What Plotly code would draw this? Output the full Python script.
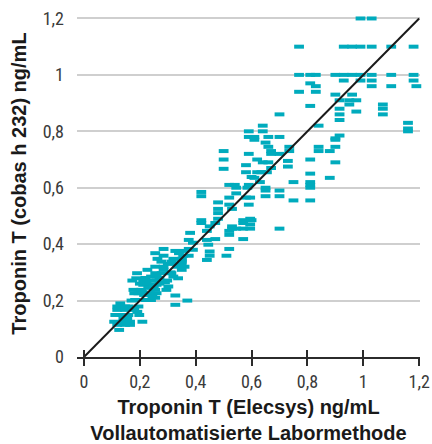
import plotly.graph_objects as go

# --- data ---
elecsys = [
    0.99, 1.03,
    0.77, 0.93, 0.96, 0.99, 1.03, 1.10, 1.18,
    0.77, 0.81, 0.83, 0.90, 0.93, 0.96, 0.99, 1.03, 1.10, 1.18,
    0.93, 0.99, 1.03, 1.18,
    0.81, 0.83, 1.03, 1.10, 1.19,
    0.77, 0.83, 0.90, 0.96,
    0.915, 0.95, 0.975, 0.95, 1.07, 0.81, 0.915, 1.07, 0.975,
    0.70, 0.915, 1.07, 0.915, 1.16, 0.84, 0.64, 1.16, 1.16, 0.64, 0.59,
    0.915, 0.90, 0.59, 0.61, 0.66, 0.70, 0.61, 0.90, 0.65,
    0.66, 0.735, 0.84, 0.90, 0.735, 0.84, 0.88, 0.67, 0.67, 0.59, 0.70, 0.50,
    0.62, 0.73, 0.81, 0.64, 0.66, 0.90, 0.73, 0.67, 0.58, 0.58, 0.50, 0.50,
    0.62, 0.635, 0.655, 0.81, 0.61, 0.88, 0.60,
    0.63, 0.75, 0.81, 0.81, 0.52, 0.54, 0.59,
    0.585, 0.65, 0.81, 0.545, 0.65, 0.65, 0.70, 0.70,
    0.545, 0.42, 0.42, 0.52, 0.58, 0.595, 0.75, 0.81, 0.48,
    0.52, 0.59, 0.53, 0.48, 0.48, 0.48, 0.595,
    0.42, 0.57, 0.60, 0.42, 0.57, 0.47, 0.595, 0.45, 0.53,
    0.53, 0.545, 0.57, 0.595, 0.70, 0.44, 0.52, 0.38, 0.52,
    0.47, 0.57, 0.375, 0.44, 0.39, 0.445, 0.375, 0.52, 0.39,
    0.34, 0.45, 0.45, 0.355, 0.375, 0.51, 0.44, 0.35, 0.33, 0.35, 0.36,
    0.285, 0.327, 0.36, 0.255, 0.34, 0.285, 0.263, 0.32, 0.35,
    0.277, 0.313, 0.35, 0.255, 0.285, 0.334, 0.227, 0.285, 0.35,
    0.19, 0.255, 0.278, 0.313, 0.32, 0.187, 0.337,
    0.173, 0.212, 0.236, 0.26, 0.298, 0.212, 0.236, 0.26, 0.225, 0.302,
    0.177, 0.205, 0.255, 0.295, 0.18, 0.195, 0.236, 0.26, 0.327,
    0.183, 0.22, 0.24, 0.255, 0.327, 0.37,
    0.119, 0.147, 0.159, 0.195, 0.119, 0.147, 0.18, 0.191,
    0.112, 0.141, 0.159, 0.198, 0.141, 0.155,
    0.108, 0.141, 0.165, 0.209, 0.119, 0.147, 0.165, 0.126,
    0.22, 0.24, 0.26, 0.23, 0.25, 0.27, 0.20, 0.215, 0.245, 0.27,
    0.30, 0.31, 0.29, 0.13, 0.17, 0.21,
]
cobas = [
    1.20, 1.20,
    1.10, 1.10, 1.10, 1.10, 1.10, 1.10, 1.10,
    1.00, 1.00, 1.00, 1.00, 1.00, 1.00, 1.00, 1.00, 1.00, 1.00,
    0.98, 0.98, 0.98, 0.98,
    0.97, 0.96, 0.96, 0.96, 0.96,
    0.94, 0.94, 0.93, 0.93,
    0.91, 0.91, 0.91, 0.895, 0.895, 0.89, 0.88, 0.88, 0.87,
    0.86, 0.86, 0.86, 0.84, 0.83, 0.82, 0.82, 0.81, 0.80, 0.80, 0.80,
    0.785, 0.775, 0.78, 0.78, 0.78, 0.78, 0.77, 0.77, 0.76,
    0.745, 0.745, 0.745, 0.745, 0.73, 0.73, 0.73, 0.73, 0.72, 0.72, 0.72, 0.73,
    0.70, 0.695, 0.70, 0.69, 0.69, 0.69, 0.675, 0.67, 0.68, 0.655, 0.70, 0.667,
    0.655, 0.655, 0.655, 0.65, 0.635, 0.635, 0.638,
    0.62, 0.62, 0.62, 0.61, 0.61, 0.61, 0.61,
    0.60, 0.60, 0.60, 0.60, 0.59, 0.57, 0.59, 0.57,
    0.58, 0.585, 0.57, 0.565, 0.565, 0.565, 0.555, 0.555, 0.548,
    0.54, 0.54, 0.525, 0.525, 0.51, 0.49, 0.49,
    0.485, 0.485, 0.485, 0.475, 0.475, 0.475, 0.47, 0.463, 0.463,
    0.455, 0.455, 0.455, 0.455, 0.455, 0.447, 0.447, 0.44, 0.433,
    0.418, 0.418, 0.415, 0.415, 0.405, 0.398, 0.383, 0.383, 0.38,
    0.374, 0.374, 0.359, 0.359, 0.359, 0.359, 0.344, 0.344, 0.332, 0.332, 0.32,
    0.383, 0.376, 0.376, 0.368, 0.368, 0.359, 0.348, 0.348, 0.348,
    0.338, 0.338, 0.338, 0.32, 0.32, 0.32, 0.309, 0.309, 0.309,
    0.297, 0.297, 0.297, 0.297, 0.285, 0.279, 0.279,
    0.271, 0.271, 0.271, 0.271, 0.271, 0.256, 0.256, 0.256, 0.26, 0.25,
    0.238, 0.238, 0.238, 0.238, 0.226, 0.226, 0.226, 0.226, 0.218,
    0.202, 0.202, 0.202, 0.21, 0.185, 0.20,
    0.179, 0.179, 0.179, 0.179, 0.167, 0.167, 0.167, 0.16,
    0.149, 0.149, 0.149, 0.149, 0.137, 0.137,
    0.125, 0.125, 0.125, 0.125, 0.114, 0.114, 0.114, 0.096,
    0.28, 0.285, 0.29, 0.245, 0.25, 0.26, 0.26, 0.22, 0.215, 0.28,
    0.33, 0.30, 0.265, 0.19, 0.20, 0.23,
]
identity_line = [0.0, 1.2]
tick_vals = [0, 0.2, 0.4, 0.6, 0.8, 1.0, 1.2]
tick_text = ["0", "0,2", "0,4", "0,6", "0,8", "1", "1,2"]

TEAL = "#00abbd"
DARK = "#2b2b2b"
TICK_FONT = "Liberation Sans Narrow, Roboto Condensed, Roboto, sans-serif"
TITLE_FONT = "Liberation Sans, Arial, sans-serif"

fig = go.Figure()
fig.add_trace(go.Scatter(
    x=elecsys, y=cobas, mode="markers",
    marker=dict(symbol="line-ew", size=7, line=dict(width=4, color=TEAL), color=TEAL),
    cliponaxis=False, hoverinfo="skip", showlegend=False,
))
fig.add_trace(go.Scatter(
    x=identity_line, y=identity_line, mode="lines",
    line=dict(color="#1a1a1a", width=2), xaxis="x2",
    cliponaxis=False, hoverinfo="skip", showlegend=False,
))

fig.update_layout(
    width=432, height=444,
    margin=dict(l=77, r=12, t=10, b=87),
    paper_bgcolor="white", plot_bgcolor="white",
    font=dict(family=TICK_FONT, size=18, color="#3a3a3a"),
    xaxis=dict(
        range=[-0.025, 1.203], tickvals=tick_vals, ticktext=tick_text,
        automargin=False,
        showgrid=False, zeroline=False,
        showline=True, linecolor=DARK, linewidth=2,
        ticks="outside", ticklen=7, tickwidth=2, tickcolor=DARK,
        tickfont=dict(family=TICK_FONT, size=18, color="#3a3a3a"),
        title=dict(
            text="<b>Troponin T (Elecsys) ng/mL<br>Vollautomatisierte Labormethode</b>",
            font=dict(family=TITLE_FONT, size=20, color="#1a1a1a"), standoff=11,
        ),
    ),
    xaxis2=dict(
        overlaying="x", matches="x", anchor="y", side="bottom",
        automargin=False,
        showgrid=False, zeroline=False, showline=False,
        tickvals=tick_vals, showticklabels=False,
        ticks="inside", ticklen=7, tickwidth=2, tickcolor=DARK,
    ),
    yaxis=dict(
        range=[0, 1.23], tickvals=tick_vals, ticktext=tick_text,
        automargin=False,
        showgrid=True, gridcolor="#cfcfcf", gridwidth=1.5,
        zeroline=False, showline=False, ticks="",
        ticklabelstandoff=12,
        tickfont=dict(family=TICK_FONT, size=18, color="#3a3a3a"),
        title=dict(
            text="<b>Troponin T (cobas h 232) ng/mL</b>",
            font=dict(family=TITLE_FONT, size=20, color="#1a1a1a"), standoff=10,
        ),
    ),
)

fig.write_html("out.html")
